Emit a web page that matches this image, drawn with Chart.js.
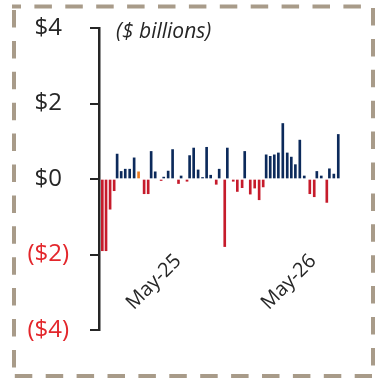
<!doctype html>
<html lang="en">
<head>
  <meta charset="utf-8">
  <title>Net flows</title>
  <style>
    html, body { margin: 0; padding: 0; background: #fff; }
    #wrap { width: 381px; height: 385px; position: relative; }
  </style>
</head>
<body>
  <div id="wrap"><canvas id="myChart"></canvas></div>
  <script src="https://cdn.jsdelivr.net/npm/chart.js"></script>
  <script>
    // bar dates, as days counted from 1 May 2025
    const days = [-205, -195, -184, -173, -165, -154, -143, -131, -119, -107,
      -92, -81, -73, -62, -46, -39, -27, -15, 1, 8,
      24, 31, 42, 54, 66, 77, 88, 103, 111, 126,
      133, 149, 160, 173, 180, 195, 207, 219, 230, 238,
      249, 260, 271, 283, 295, 306, 317, 329, 341, 356,
      368, 375, 387, 402, 409, 421, 433];
    const values = [-1.9, -1.9, -0.8, -0.31, 0.66, 0.2, 0.26, 0.26, 0.56, 0.19,
      -0.39, -0.39, 0.73, 0.19, -0.04, 0.05, 0.21, 0.78, -0.12, 0.08,
      -0.06, 0.62, 0.82, 0.24, 0.04, 0.84, 0.1, -0.14, 0.26, -1.79,
      0.82, -0.06, -0.33, -0.23, 0.73, -0.4, -0.24, -0.55, -0.21, 0.64,
      0.6, 0.64, 0.69, 1.47, 0.69, 0.58, 0.38, 1.03, 0.08, -0.39,
      -0.47, 0.2, 0.08, -0.62, 0.27, 0.13, 1.18];
    const highlightIndex = 9;
    const tickDays = [0, 365];
    const tickLabels = ['May-25', 'May-26'];
    const yTickValues = [-4, -2, 0, 2, 4];
    const yTickLabels = ['($4)', '($2)', '$0', '$2', '$4'];
    const unitLabel = '($ billions)';

    const NAVY = '#0c2a5b';
    const RED = '#c61b2b';
    const ORANGE = '#ee7d22';
    const INK = '#262626';
    const FONT = '"Open Sans", sans-serif';

    const frame = {
      id: 'frame',
      beforeDraw(chart) {
        const c = chart.ctx;
        const seg = (x1, y1, x2, y2, off) => {
          c.lineDashOffset = off;
          c.beginPath();
          c.moveTo(x1, y1);
          c.lineTo(x2, y2);
          c.stroke();
        };
        c.save();
        c.strokeStyle = '#a89b89';
        c.lineWidth = 4;
        c.setLineDash([17.5, 13.4]);
        seg(12, 6.5, 361, 6.5, 8.5);
        seg(373, 8, 373, 376, 0);
        seg(14, 10, 14, 376, 0);
        seg(14.8, 376, 372, 376, 0);
        c.restore();
      }
    };

    const unitText = {
      id: 'unitText',
      afterDraw(chart) {
        const c = chart.ctx;
        c.save();
        c.font = 'italic 21px ' + FONT;
        c.fillStyle = INK;
        c.textBaseline = 'middle';
        c.fillText(unitLabel, 116, 32);
        c.restore();
      }
    };

    const config = {
      type: 'bar',
      data: {
        datasets: [{
          data: days.map((d, i) => ({ x: d, y: values[i] })),
          backgroundColor: ctx => ctx.dataIndex === highlightIndex ? ORANGE
            : (values[ctx.dataIndex] < 0 ? RED : NAVY),
          barThickness: 2
        }]
      },
      options: {
        responsive: true,
        maintainAspectRatio: false,
        animation: false,
        layout: { padding: { top: 28, bottom: 55, left: 0, right: 32 } },
        plugins: { legend: { display: false }, tooltip: { enabled: false } },
        scales: {
          x: {
            type: 'linear',
            position: { y: -2 },
            min: -214,
            max: 462,
            offset: false,
            grid: { display: false },
            border: { display: false },
            afterBuildTicks: s => { s.ticks = tickDays.map(v => ({ value: v })); },
            afterFit: s => { s.height = 0; },
            ticks: {
              autoSkip: false,
              minRotation: 45,
              maxRotation: 45,
              padding: -13,
              color: INK,
              font: { family: FONT, size: 20 },
              callback: v => tickLabels[tickDays.indexOf(v)]
            }
          },
          y: {
            min: -4,
            max: 4,
            afterBuildTicks: s => { s.ticks = yTickValues.map(v => ({ value: v })); },
            afterFit: s => { s.width = 99; s.paddingTop = 10; s.paddingBottom = 10; },
            grid: { drawOnChartArea: false, drawTicks: true, tickLength: 9, color: INK, lineWidth: 2 },
            border: { display: true, color: INK, width: 2.5 },
            ticks: {
              crossAlign: 'center',
              padding: 21,
              font: { family: FONT, size: 24 },
              color: ctx => ctx.tick.value < 0 ? '#e3262b' : INK,
              callback: v => yTickLabels[yTickValues.indexOf(v)]
            }
          }
        }
      },
      plugins: [frame, unitText]
    };

    new Chart(document.getElementById('myChart'), config);
  </script>
</body>
</html>
